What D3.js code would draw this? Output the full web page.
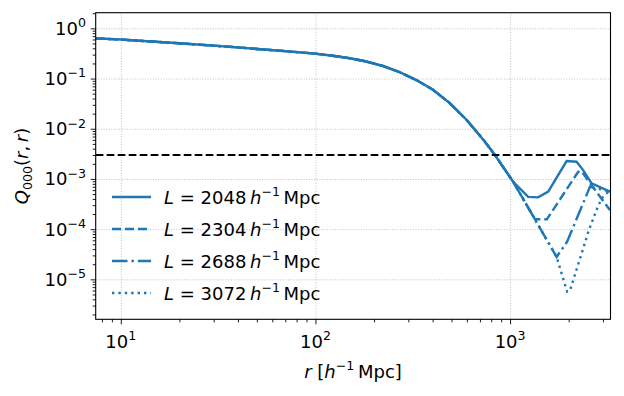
<!DOCTYPE html>
<meta charset="utf-8">
<style>
    body { margin: 0; background: #fff; }
    text { font-family: "DejaVu Sans", sans-serif; fill: #000; }
    .grid line { stroke: #b0b0b0; stroke-width: 0.8px; stroke-dasharray: 1,1.6; }
    .grid path { display: none; }
    .axis path { display: none; }
    .axis line { stroke: #000; stroke-width: 0.9px; }
    .series { fill: none; stroke: #1f77b4; stroke-width: 2.4px; }
</style>
<body>
<script src="https://cdn.jsdelivr.net/npm/d3@7"></script>
<script>

// shared part of all four curves (r in h^-1 Mpc, Q000)
var rCommon = [7.43, 10, 15, 20, 30, 40, 50, 70, 100, 125, 150, 180, 220, 270, 330, 400, 490, 600, 730, 836, 1037];
var qCommon = [0.632, 0.598, 0.540, 0.504, 0.452, 0.417, 0.389, 0.351, 0.313, 0.282, 0.254, 0.221, 0.180, 0.135, 0.0933, 0.0603, 0.0324, 0.0148, 0.0060, 0.0030, 0.00088];

// tails, where the box sizes split
var rL2048 = [1239, 1393, 1570, 1952, 2196, 2373, 2623, 3258];
var qL2048 = [4.4e-4, 4.3e-4, 5.6e-4, 2.27e-3, 2.2e-3, 1.5e-3, 8.2e-4, 5.6e-4];
var rL2304 = [1343, 1545, 2238, 2320, 2623, 3258];
var qL2304 = [1.57e-4, 1.57e-4, 1.39e-3, 1.45e-3, 7.5e-4, 2.4e-4];
var rL2688 = [1734, 1963, 2573, 3258];
var qL2688 = [2.8e-5, 5.6e-5, 7.0e-4, 5.6e-4];
var rL3072 = [1734, 1963, 2028, 2541, 2779, 2950, 3258];
var qL3072 = [2.8e-5, 5.7e-6, 5.9e-6, 9.6e-5, 2.4e-4, 4.1e-4, 6.0e-4];

var labelsL = ["2048", "2304", "2688", "3072"];
var threshold = 3e-3;

var xTicks = [10, 100, 1000];
var xExp = ["1", "2", "3"];
var yTicks = [1, 1e-1, 1e-2, 1e-3, 1e-4, 1e-5];
var yExp = ["0", "\u22121", "\u22122", "\u22123", "\u22124", "\u22125"];

var series = [
    {r: rL2048, q: qL2048, dash: null},
    {r: rL2304, q: qL2304, dash: "9,4"},
    {r: rL2688, q: qL2688, dash: "15.5,4,2.4,4"},
    {r: rL3072, q: qL3072, dash: "2.4,4"}
];
series.forEach(function(s, i) {
    s.label = labelsL[i];
    var qs = qCommon.concat(s.q);
    s.pts = rCommon.concat(s.r).map(function(r, j) { return [r, qs[j]]; });
});

// axes box in pixels
var W = 624, H = 396;
var axL = 95.7, axR = 610.5, axT = 12.7, axB = 319.3;

var x = d3.scaleLog().domain([7.43, 3280]).range([axL, axR]);
var y = d3.scaleLog().domain([1.6e-6, 2.05]).range([axB, axT]);

var svg = d3.select("body").append("svg")
    .attr("width", W).attr("height", H);

svg.append("clipPath").attr("id", "clip")
  .append("rect")
    .attr("x", axL).attr("y", axT)
    .attr("width", axR - axL).attr("height", axB - axT);

// minor tick values
function minors(lo, hi) {
    var out = [];
    for (var e = Math.floor(Math.log10(lo)); e <= Math.ceil(Math.log10(hi)); e++) {
        for (var m = 2; m <= 9; m++) {
            var v = m * Math.pow(10, e);
            if (v >= lo && v <= hi) out.push(v);
        }
    }
    return out;
}

// gridlines
svg.append("g").attr("class", "grid")
    .attr("transform", "translate(0," + axB + ")")
    .call(d3.axisBottom(x).tickValues(xTicks).tickSize(-(axB - axT)).tickFormat(""));
svg.append("g").attr("class", "grid")
    .attr("transform", "translate(" + axL + ",0)")
    .call(d3.axisLeft(y).tickValues(yTicks).tickSize(-(axR - axL)).tickFormat(""));

// curves
var line = d3.line()
    .x(function(d) { return x(d[0]); })
    .y(function(d) { return y(d[1]); });

var plot = svg.append("g").attr("clip-path", "url(#clip)");
series.forEach(function(s) {
    plot.append("path")
        .datum(s.pts)
        .attr("class", "series")
        .attr("stroke-dasharray", s.dash)
        .attr("d", line);
});

// threshold line
plot.append("line")
    .attr("x1", axL).attr("x2", axR)
    .attr("y1", y(threshold)).attr("y2", y(threshold))
    .attr("stroke", "#000").attr("stroke-width", 1.8)
    .attr("stroke-dasharray", "7.7,3.3");

// ticks
svg.append("g").attr("class", "axis")
    .attr("transform", "translate(0," + axB + ")")
    .call(d3.axisBottom(x).tickValues(xTicks).tickSize(5).tickFormat(""));
svg.append("g").attr("class", "axis")
    .attr("transform", "translate(0," + axB + ")")
    .call(d3.axisBottom(x).tickValues(minors(7.43, 3280)).tickSize(3).tickFormat(""));
svg.append("g").attr("class", "axis")
    .attr("transform", "translate(" + axL + ",0)")
    .call(d3.axisLeft(y).tickValues(yTicks).tickSize(5).tickFormat(""));
svg.append("g").attr("class", "axis")
    .attr("transform", "translate(" + axL + ",0)")
    .call(d3.axisLeft(y).tickValues(minors(1.6e-6, 2.05)).tickSize(3).tickFormat(""));

// spines
svg.append("rect")
    .attr("x", axL).attr("y", axT)
    .attr("width", axR - axL).attr("height", axB - axT)
    .attr("fill", "none").attr("stroke", "#000").attr("stroke-width", 1.1);

// text made of pieces: {t, it, sup, sub}
function rich(sel, parts, size) {
    var shift = 0;
    parts.forEach(function(p) {
        var target = p.sup ? -0.42 * size : (p.sub ? 0.22 * size : 0);
        var ts = sel.append("tspan")
            .attr("dy", target - shift)
            .attr("font-size", (p.sup || p.sub) ? size * 0.7 : size)
            .text(p.t);
        if (p.it) ts.attr("font-style", "italic");
        shift = target;
    });
}

var fs = 18;

// tick labels
xTicks.forEach(function(v, i) {
    var t = svg.append("text")
        .attr("x", x(v)).attr("y", 348)
        .attr("text-anchor", "middle");
    rich(t, [{t: "10"}, {t: xExp[i], sup: true}], fs);
});
yTicks.forEach(function(v, i) {
    var t = svg.append("text")
        .attr("x", 86).attr("y", y(v) + 6.5)
        .attr("text-anchor", "end");
    rich(t, [{t: "10"}, {t: yExp[i], sup: true}], fs);
});

// axis titles
var xl = svg.append("text")
    .attr("x", 353).attr("y", 378)
    .attr("text-anchor", "middle");
rich(xl, [{t: "r", it: true}, {t: " ["}, {t: "h", it: true}, {t: "\u22121", sup: true}, {t: "\u2009Mpc]"}], fs);

var yl = svg.append("text")
    .attr("transform", "translate(28," + ((axT + axB) / 2) + ") rotate(-90)")
    .attr("text-anchor", "middle");
rich(yl, [{t: "Q", it: true}, {t: "000", sub: true}, {t: "("}, {t: "r", it: true}, {t: ",\u2009"}, {t: "r", it: true}, {t: ")"}], fs);

// legend
var legend = svg.append("g");
series.forEach(function(s, i) {
    var ly = 197 + i * 32;
    legend.append("line")
        .attr("class", "series")
        .attr("x1", 112).attr("x2", 151)
        .attr("y1", ly).attr("y2", ly)
        .attr("stroke-dasharray", s.dash);
    var t = legend.append("text")
        .attr("x", 164).attr("y", ly + 6.5);
    rich(t, [{t: "L", it: true}, {t: " = " + s.label + "\u2009"}, {t: "h", it: true},
             {t: "\u22121", sup: true}, {t: "\u2009Mpc"}], fs);
});

</script>
</body>
